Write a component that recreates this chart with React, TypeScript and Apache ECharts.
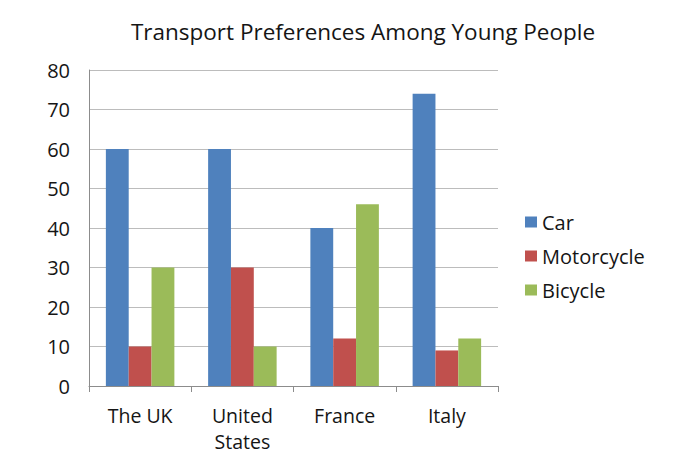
import React, { useEffect, useRef } from "react";
import * as echarts from "echarts";

const categories = ["The UK", "United\nStates", "France", "Italy"];
const carValues = [60, 60, 40, 74];
const motorcycleValues = [10, 30, 12, 9];
const bicycleValues = [30, 10, 46, 12];
const yTicks = { min: 0, max: 80, interval: 10 };

const FONT = "Open Sans";

export default function App() {
  const ref = useRef<HTMLDivElement>(null);
  useEffect(() => {
    const chart = echarts.init(ref.current!, null, { renderer: "svg" });
    chart.setOption({
      animation: false,
      backgroundColor: "#ffffff",
      title: {
        text: "Transport Preferences Among Young People",
        left: 358,
        textAlign: "center",
        top: 15,
        textStyle: { fontFamily: FONT, fontSize: 22.5, fontWeight: "normal", color: "#151515" },
      },
      legend: {
        orient: "vertical",
        left: 520,
        top: 207,
        itemWidth: 12,
        itemHeight: 11,
        itemGap: 14,
        icon: "rect",
        textStyle: { fontFamily: FONT, fontSize: 20, color: "#151515" },
        data: ["Car", "Motorcycle", "Bicycle"],
      },
      grid: { left: 89, right: 199, top: 70, bottom: 81 },
      xAxis: {
        type: "category",
        data: categories,
        axisLine: { lineStyle: { color: "#8c8c8c" } },
        axisTick: { show: true, length: 6, lineStyle: { color: "#8c8c8c" } },
        axisLabel: {
          fontFamily: FONT,
          fontSize: 19.5,
          color: "#151515",
          margin: 16,
          lineHeight: 26,
        },
      },
      yAxis: {
        type: "value",
        min: yTicks.min,
        max: yTicks.max,
        interval: yTicks.interval,
        axisLine: { show: true, lineStyle: { color: "#8c8c8c" } },
        axisTick: { show: false },
        splitLine: { lineStyle: { color: "#bcbcbc" } },
        axisLabel: { fontFamily: FONT, fontSize: 20, color: "#151515", margin: 19 },
      },
      series: [
        { name: "Car", type: "bar", data: carValues, itemStyle: { color: "#4F81BD" }, barGap: "0%", barCategoryGap: "33%" },
        { name: "Motorcycle", type: "bar", data: motorcycleValues, itemStyle: { color: "#C0504D" }, barGap: "0%", barCategoryGap: "33%" },
        { name: "Bicycle", type: "bar", data: bicycleValues, itemStyle: { color: "#9BBB59" }, barGap: "0%", barCategoryGap: "33%" },
      ],
    });
    return () => chart.dispose();
  }, []);
  return <div ref={ref} style={{ width: 697, height: 467, position: "absolute", left: 0, top: 0 }} />;
}
